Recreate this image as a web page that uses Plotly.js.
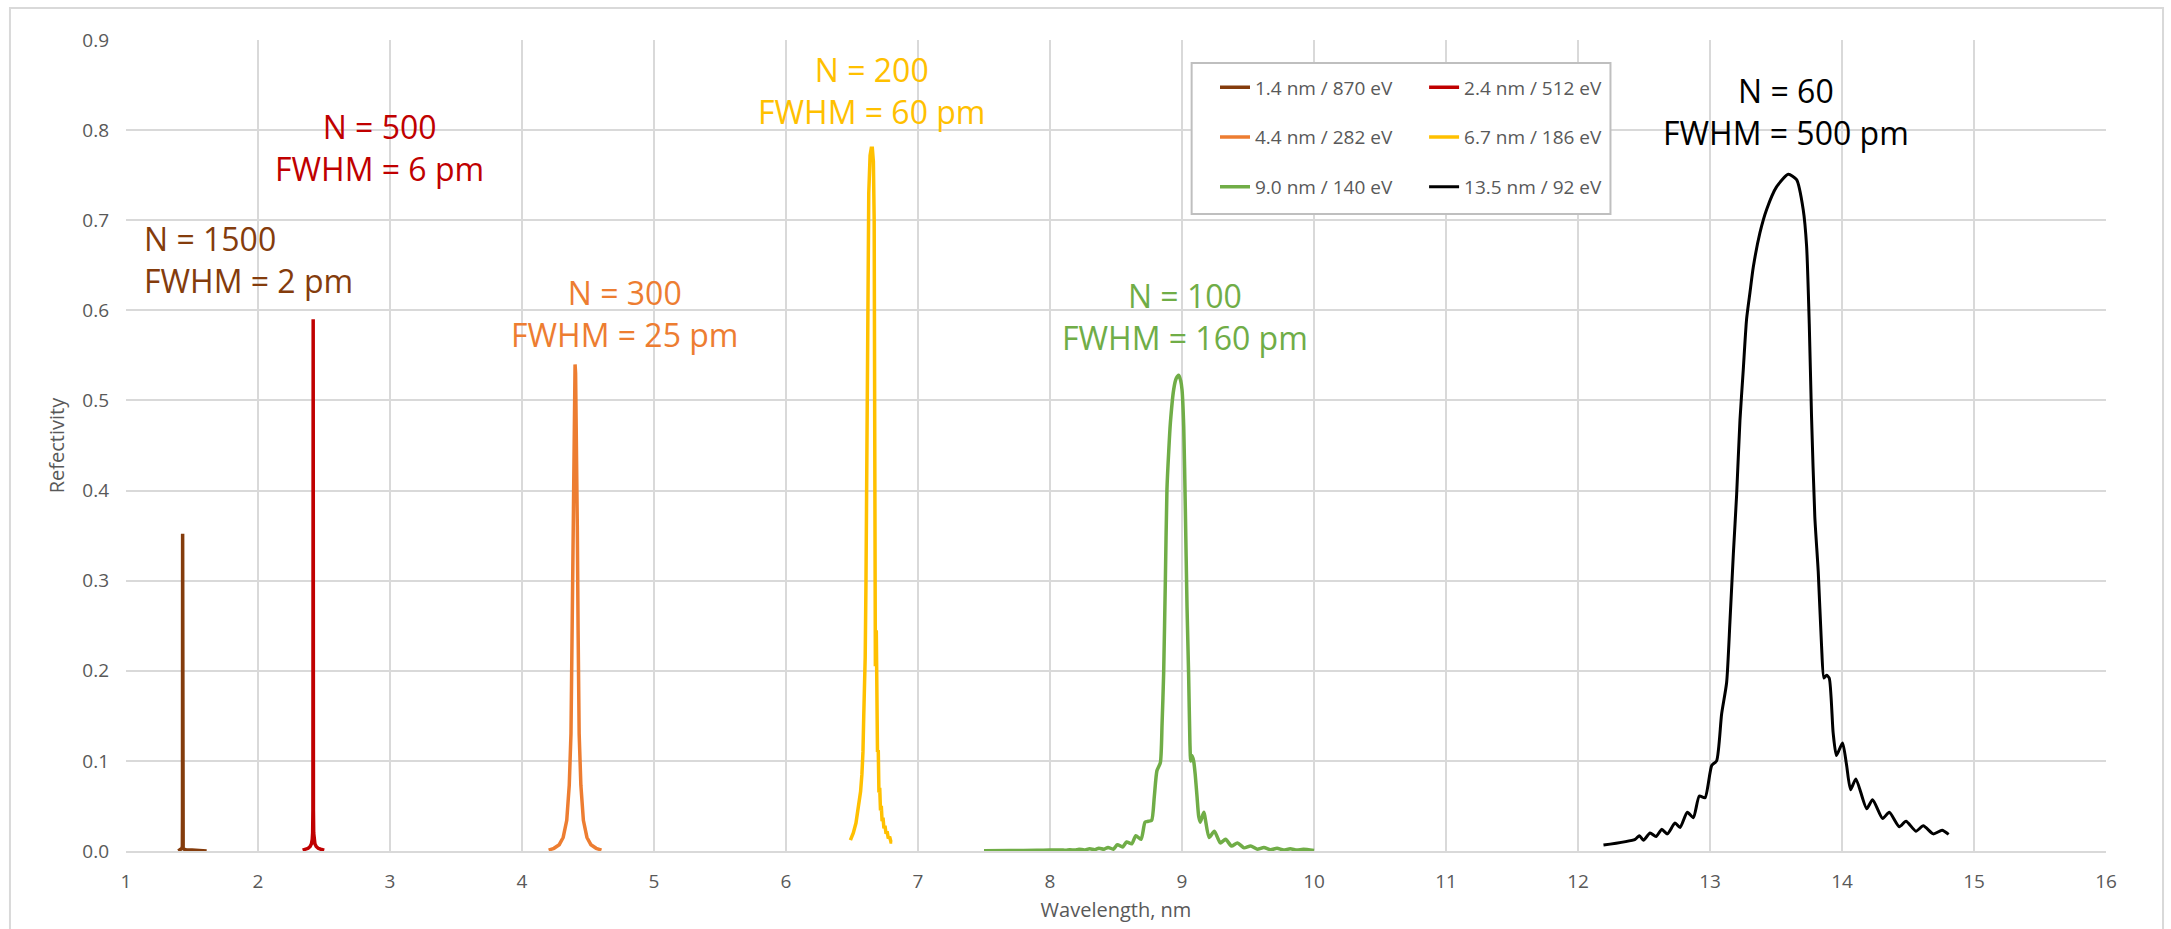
<!DOCTYPE html>
<html>
<head>
<meta charset="utf-8">
<script src="https://cdn.plot.ly/plotly-3.0.1.min.js"></script>
<style>
  html, body { margin: 0; padding: 0; background: #ffffff; }
  #chart { width: 2171px; height: 929px; }
</style>
</head>
<body>
<div id="chart"></div>
<script>
// ---------- data ----------
const seriesNames = ["1.4 nm / 870 eV", "2.4 nm / 512 eV", "4.4 nm / 282 eV",
                     "6.7 nm / 186 eV", "9.0 nm / 140 eV", "13.5 nm / 92 eV"];

const brownX = [1.396, 1.410, 1.420, 1.425, 1.427, 1.428, 1.429, 1.430, 1.431, 1.433, 1.440, 1.460, 1.500, 1.560, 1.611];
const brownY = [0.000, 0.001, 0.002, 0.003, 0.006, 0.040, 0.352, 0.040, 0.006, 0.003, 0.002, 0.001, 0.001, 0.0005, 0.000];

const redX = [2.338, 2.360, 2.380, 2.395, 2.405, 2.411, 2.414, 2.416, 2.417, 2.418, 2.419, 2.420, 2.422, 2.425, 2.431, 2.441, 2.456, 2.476, 2.502];
const redY = [0.001, 0.002, 0.003, 0.005, 0.008, 0.013, 0.020, 0.045, 0.200, 0.590, 0.200, 0.045, 0.020, 0.013, 0.008, 0.005, 0.003, 0.002, 0.001];

const orangeX = [4.202, 4.242, 4.282, 4.312, 4.339, 4.358, 4.371, 4.379, 4.385, 4.392, 4.398, 4.402, 4.406, 4.412, 4.419, 4.425, 4.433, 4.446, 4.465, 4.492, 4.522, 4.562, 4.602];
const orangeY = [0.001, 0.003, 0.007, 0.015, 0.034, 0.073, 0.130, 0.245, 0.360, 0.475, 0.530, 0.540, 0.530, 0.475, 0.360, 0.245, 0.130, 0.073, 0.034, 0.015, 0.007, 0.003, 0.001];

const goldX = [6.488, 6.510, 6.530, 6.550, 6.565, 6.575, 6.583, 6.589, 6.593, 6.597, 6.600, 6.606, 6.612, 6.619, 6.627, 6.637, 6.646, 6.654, 6.662, 6.668, 6.672, 6.675, 6.677, 6.680, 6.684, 6.688, 6.693, 6.699, 6.704, 6.710, 6.716, 6.722, 6.728, 6.735, 6.742, 6.750, 6.758, 6.766, 6.775, 6.785, 6.795, 6.805];
const goldY = [0.012, 0.020, 0.031, 0.048, 0.066, 0.085, 0.110, 0.150, 0.172, 0.170, 0.215, 0.300, 0.430, 0.600, 0.730, 0.772, 0.780, 0.780, 0.765, 0.700, 0.520, 0.330, 0.205, 0.215, 0.245, 0.140, 0.110, 0.112, 0.065, 0.070, 0.045, 0.050, 0.033, 0.037, 0.025, 0.028, 0.019, 0.022, 0.014, 0.016, 0.010, 0.010];

const greenX = [7.50, 7.70, 7.90, 8.00, 8.08, 8.12, 8.15, 8.19, 8.22, 8.26, 8.30, 8.34, 8.37, 8.41, 8.44, 8.48, 8.51, 8.55, 8.58, 8.62, 8.65, 8.69, 8.72, 8.745, 8.77, 8.79, 8.81, 8.836, 8.849, 8.861, 8.874, 8.886, 8.900, 8.912, 8.937, 8.955, 8.975, 8.990, 9.000, 9.013, 9.025, 9.038, 9.050, 9.060, 9.066, 9.075, 9.088, 9.100, 9.114, 9.127, 9.139, 9.165, 9.205, 9.245, 9.290, 9.330, 9.375, 9.420, 9.470, 9.520, 9.570, 9.620, 9.670, 9.720, 9.770, 9.820, 9.870, 9.920, 10.000];
const greenY = [0.0003, 0.0005, 0.0008, 0.0010, 0.0012, 0.0008, 0.0015, 0.0010, 0.0020, 0.0012, 0.0025, 0.0015, 0.0030, 0.0020, 0.0040, 0.0020, 0.0070, 0.0045, 0.0100, 0.0080, 0.0170, 0.0130, 0.0320, 0.0330, 0.0340, 0.0600, 0.0890, 0.0980, 0.1410, 0.1970, 0.3010, 0.4010, 0.4450, 0.4750, 0.5120, 0.5240, 0.5280, 0.5220, 0.5120, 0.4710, 0.3820, 0.2710, 0.1970, 0.1200, 0.1000, 0.1060, 0.1000, 0.0850, 0.0600, 0.0380, 0.0320, 0.0430, 0.0150, 0.0220, 0.0090, 0.0130, 0.0055, 0.0090, 0.0035, 0.0056, 0.0020, 0.0040, 0.0015, 0.0030, 0.0010, 0.0025, 0.0010, 0.0020, 0.0005];

const blackX = [12.193, 12.433, 12.465, 12.496, 12.546, 12.591, 12.634, 12.677, 12.735, 12.773, 12.828, 12.874, 12.919, 12.962, 13.013, 13.050, 13.088, 13.126, 13.151, 13.177, 13.202, 13.227, 13.252, 13.277, 13.303, 13.328, 13.378, 13.429, 13.504, 13.593, 13.656, 13.706, 13.732, 13.752, 13.769, 13.794, 13.820, 13.845, 13.863, 13.883, 13.903, 13.933, 13.958, 14.004, 14.034, 14.065, 14.105, 14.187, 14.232, 14.308, 14.358, 14.434, 14.485, 14.560, 14.616, 14.692, 14.758, 14.808];
const blackY = [0.0066, 0.013, 0.017, 0.012, 0.020, 0.016, 0.024, 0.019, 0.031, 0.026, 0.043, 0.037, 0.061, 0.059, 0.095, 0.100, 0.152, 0.187, 0.254, 0.330, 0.396, 0.478, 0.534, 0.590, 0.620, 0.648, 0.686, 0.712, 0.737, 0.751, 0.745, 0.712, 0.671, 0.585, 0.483, 0.371, 0.310, 0.228, 0.192, 0.195, 0.192, 0.131, 0.106, 0.120, 0.096, 0.068, 0.080, 0.047, 0.057, 0.036, 0.043, 0.027, 0.033, 0.022, 0.028, 0.019, 0.023, 0.0185];

const labelTexts = ["N = 1500<br>FWHM = 2 pm", "N = 500<br>FWHM = 6 pm", "N = 300<br>FWHM = 25 pm",
                    "N = 200<br>FWHM = 60 pm", "N = 100<br>FWHM = 160 pm", "N = 60<br>FWHM = 500 pm"];

const xTickVals = [1, 2, 3, 4, 5, 6, 7, 8, 9, 10, 11, 12, 13, 14, 15, 16];
const yTickVals = [0.0, 0.1, 0.2, 0.3, 0.4, 0.5, 0.6, 0.7, 0.8, 0.9];

// ---------- styling ----------
const colors = ["#843C0C", "#C00000", "#ED7D31", "#FFC000", "#70AD47", "#000000"];
const xs = [brownX, redX, orangeX, goldX, greenX, blackX];
const ys = [brownY, redY, orangeY, goldY, greenY, blackY];
const shapesKind = ["linear", "linear", "linear", "linear", "spline", "spline"];
const widths = [3.5, 3.5, 3.5, 3.5, 3.5, 3];
const legendOf = ["legend", "legend2", "legend", "legend2", "legend", "legend2"];

const traces = xs.map((x, i) => ({
  type: "scatter",
  mode: "lines",
  x: x,
  y: ys[i],
  name: seriesNames[i],
  legend: legendOf[i],
  legendgroup: "g" + i,
  line: { color: colors[i], width: widths[i], shape: shapesKind[i], smoothing: 0.6 },
  hoverinfo: "skip"
}));

// label anchors (x in nm, y in reflectivity units) and alignment
const labelPos = [
  { x: 1.119, y: 0.656, xanchor: "left", align: "left" },
  { x: 2.924, y: 0.781, xanchor: "center", align: "center" },
  { x: 4.779, y: 0.596, xanchor: "center", align: "center" },
  { x: 6.649, y: 0.844, xanchor: "center", align: "center" },
  { x: 9.020, y: 0.593, xanchor: "center", align: "center" },
  { x: 13.575, y: 0.821, xanchor: "center", align: "center" }
];

const annotations = labelTexts.map((t, i) => ({
  text: t, xref: "x", yref: "y", x: labelPos[i].x, y: labelPos[i].y,
  xanchor: labelPos[i].xanchor, yanchor: "middle", align: labelPos[i].align,
  showarrow: false,
  font: { family: "Open Sans", size: 32, color: colors[i] }
}));

const legendCommon = {
  orientation: "v",
  xanchor: "left", yanchor: "top",
  y: 0.965,
  bgcolor: "rgba(0,0,0,0)",
  borderwidth: 0,
  tracegroupgap: 22,
  font: { family: "Open Sans", size: 19, color: "#595959" }
};

const axisFont = { family: "Open Sans", size: 19, color: "#595959" };

const layout = {
  width: 2171, height: 929,
  margin: { l: 126, r: 65, t: 40, b: 78, pad: 0 },
  paper_bgcolor: "#ffffff",
  plot_bgcolor: "#ffffff",
  font: { family: "Open Sans", color: "#595959" },
  showlegend: true,
  legend: Object.assign({}, legendCommon, { x: 0.55 }),
  legend2: Object.assign({}, legendCommon, { x: 0.6556 }),
  xaxis: {
    range: [1, 16],
    tickmode: "array", tickvals: xTickVals,
    showgrid: true, gridcolor: "#D9D9D9", gridwidth: 2,
    zeroline: false, showline: true, linecolor: "#D9D9D9", linewidth: 2,
    ticks: "", ticklabelstandoff: 12,
    tickfont: axisFont,
    title: { text: "Wavelength, nm", font: { family: "Open Sans", size: 20, color: "#595959" }, standoff: 10 },
    fixedrange: true
  },
  yaxis: {
    range: [0, 0.9],
    tickmode: "array", tickvals: yTickVals, tickformat: ".1f",
    showgrid: true, gridcolor: "#D9D9D9", gridwidth: 2,
    zeroline: false, showline: false,
    ticks: "", ticklabelstandoff: 16,
    tickfont: axisFont,
    title: { text: "Refectivity", font: { family: "Open Sans", size: 20, color: "#595959" }, standoff: 12 },
    fixedrange: true
  },
  annotations: annotations,
  shapes: [
    // legend frame (white, hides gridlines, below traces)
    { type: "rect", xref: "x", yref: "y", x0: 9.073, x1: 12.246, y0: 0.707, y1: 0.8745,
      layer: "between", fillcolor: "#ffffff", line: { color: "#BFBFBF", width: 2 } },
    // outer chart frame
    { type: "rect", xref: "paper", yref: "paper", x0: -0.0586, x1: 1.0288, y0: -0.11, y1: 1.0395,
      layer: "below", fillcolor: "rgba(0,0,0,0)", line: { color: "#D9D9D9", width: 2 } }
  ],
  hovermode: false
};

Plotly.newPlot("chart", traces, layout, { displayModeBar: false, responsive: false, staticPlot: true });
</script>
</body>
</html>
